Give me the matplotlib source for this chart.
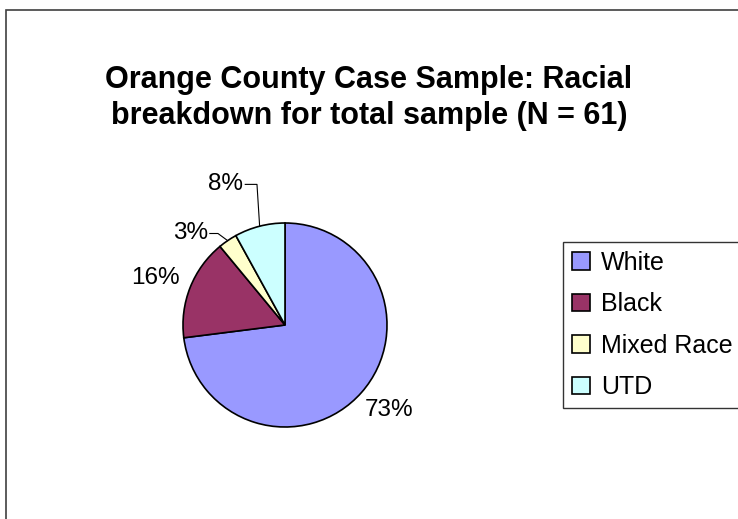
import numpy as np
import matplotlib
matplotlib.use("Agg")
import matplotlib.pyplot as plt
from matplotlib.patches import Rectangle

plt.rcParams['font.family'] = ['Liberation Sans', 'DejaVu Sans']

categories = ["White", "Black", "Mixed Race", "UTD"]
percents = [73, 16, 3, 8]
colors = ["#9999FF", "#993366", "#FFFFCC", "#CCFFFF"]
title = "Orange County Case Sample: Racial\nbreakdown for total sample (N = 61)"

W, H = 738, 519
fig = plt.figure(figsize=(W / 100, H / 100), dpi=100)

# pie axes: centre (285, 325) px, radius 102 px
cx, cy, r = 285, 325, 102
ax = fig.add_axes([(cx - r) / W, (H - cy - r) / H, 2 * r / W, 2 * r / H])
wedges, _ = ax.pie(percents, colors=colors, startangle=90, counterclock=False,
                   radius=1, wedgeprops=dict(edgecolor="black", linewidth=1.2))
ax.set_xlim(-1, 1)
ax.set_ylim(-1, 1)
ax.set_aspect("equal")
ax.axis("off")

# labels (sizes in data units, 1 unit = r pixels)
label_fs = 17.5
gap, half_w, half_h = 13 / r, 24 / r, 13 / r
leader = {3: (-0.095, 0.07, 0.08), 8: (-0.026, 0.41, 0.115)}
for i, w in enumerate(wedges):
    mid = np.deg2rad((w.theta1 + w.theta2) / 2)
    ex, ey = np.cos(mid), np.sin(mid)
    txt = f"{percents[i]}%"
    if percents[i] in leader:
        dx, dy, hl = leader[percents[i]]
        kx, ky = ex + dx, ey + dy
        ax.plot([ex, kx, kx - hl], [ey, ky, ky], color="black", lw=0.8,
                clip_on=False)
        ax.text(kx - hl - 0.02, ky, txt, ha="right", va="center",
                fontsize=label_fs, clip_on=False)
    else:
        tx = (1 + gap) * ex + half_w * ex
        ty = (1 + gap) * ey + half_h * ey
        ax.text(tx, ty, txt, ha="center", va="center",
                fontsize=label_fs, clip_on=False)

fig.text(0.5, 1 - 98 / H, title, ha="center", va="center",
         fontsize=22, fontweight="bold", linespacing=1.3)

leg = fig.legend(wedges, categories, loc="upper left",
                 bbox_to_anchor=(563 / W, 1 - 242 / H), fontsize=18,
                 frameon=True, fancybox=False, edgecolor="black",
                 handlelength=0.72, handleheight=0.72, handletextpad=0.44,
                 labelspacing=0.7, borderpad=0.35, borderaxespad=0)
leg.get_frame().set_linewidth(1.0)

# chart area border (extends past right and bottom edge)
fig.add_artist(Rectangle((6 / W, -0.05), 1.2, 1 - 10 / H + 0.05,
                         transform=fig.transFigure, fill=False,
                         edgecolor="#404040", lw=1.2))

fig.savefig("out.png", dpi=100)
